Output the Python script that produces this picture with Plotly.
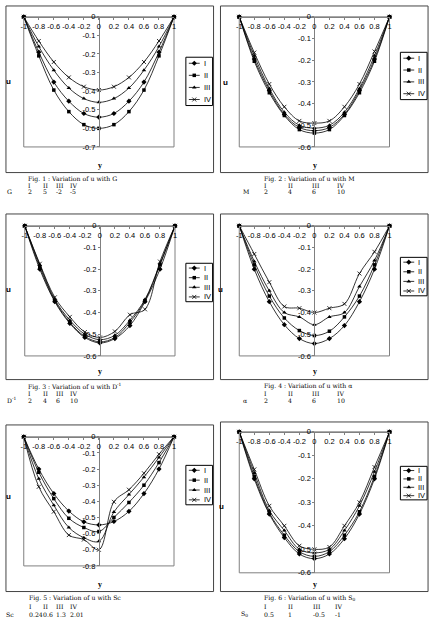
import plotly.graph_objects as go

# ---------------- data ----------------
Y_POS = [-1, -0.8, -0.6, -0.4, -0.2, 0, 0.2, 0.4, 0.6, 0.8, 1]
SERIES = ["I", "II", "III", "IV"]

# Fig. 1 : G
G_I = [0, -0.19, -0.351, -0.454, -0.52, -0.54, -0.52, -0.454, -0.351, -0.19, 0]
G_II = [0, -0.21, -0.394, -0.51, -0.58, -0.60, -0.58, -0.51, -0.394, -0.21, 0]
G_III = [0, -0.16, -0.287, -0.383, -0.44, -0.46, -0.44, -0.383, -0.287, -0.16, 0]
G_IV = [0, -0.13, -0.243, -0.326, -0.376, -0.394, -0.376, -0.326, -0.243, -0.13, 0]

# Fig. 2 : M
M_I = [0, -0.195, -0.34, -0.45, -0.51, -0.525, -0.51, -0.45, -0.34, -0.195, 0]
M_II = [0, -0.205, -0.35, -0.455, -0.52, -0.536, -0.52, -0.455, -0.35, -0.205, 0]
M_III = [0, -0.18, -0.33, -0.44, -0.50, -0.513, -0.50, -0.44, -0.33, -0.18, 0]
M_IV = [0, -0.165, -0.31, -0.415, -0.48, -0.49, -0.48, -0.415, -0.31, -0.16, 0]

# Fig. 3 : D^-1
D_I = [0, -0.2, -0.35, -0.45, -0.515, -0.54, -0.52, -0.46, -0.35, -0.2, 0]
D_II = [0, -0.19, -0.345, -0.445, -0.51, -0.535, -0.515, -0.445, -0.345, -0.18, 0]
D_III = [0, -0.18, -0.34, -0.435, -0.50, -0.525, -0.505, -0.435, -0.34, -0.175, 0]
D_IV = [0, -0.175, -0.33, -0.42, -0.49, -0.515, -0.487, -0.41, -0.385, -0.165, 0]

# Fig. 4 : alpha
A_I = [0, -0.2, -0.35, -0.456, -0.52, -0.543, -0.52, -0.46, -0.35, -0.2, 0]
A_II = [0, -0.18, -0.324, -0.425, -0.483, -0.506, -0.486, -0.42, -0.324, -0.18, 0]
A_III = [0, -0.164, -0.30, -0.40, -0.42, -0.456, -0.42, -0.40, -0.28, -0.16, 0]
A_IV = [0, -0.13, -0.26, -0.372, -0.38, -0.40, -0.38, -0.36, -0.22, -0.12, 0]

# Fig. 5 : Sc
S_I = [0, -0.2, -0.352, -0.46, -0.527, -0.546, -0.525, -0.462, -0.352, -0.2, 0]
S_II = [0, -0.22, -0.383, -0.505, -0.562, -0.587, -0.50, -0.407, -0.30, -0.16, 0]
S_III = [0, -0.26, -0.424, -0.562, -0.625, -0.648, -0.466, -0.358, -0.25, -0.128, 0]
S_IV = [0, -0.31, -0.464, -0.609, -0.637, -0.70, -0.403, -0.328, -0.226, -0.108, 0]

# Fig. 6 : S0
Z_I = [0, -0.20, -0.35, -0.45, -0.52, -0.54, -0.52, -0.455, -0.35, -0.20, 0]
Z_II = [0, -0.19, -0.345, -0.44, -0.51, -0.53, -0.51, -0.44, -0.34, -0.19, 0]
Z_III = [0, -0.175, -0.335, -0.42, -0.50, -0.515, -0.50, -0.42, -0.315, -0.17, 0]
Z_IV = [0, -0.16, -0.315, -0.40, -0.485, -0.50, -0.49, -0.40, -0.30, -0.15, 0]

X_TICKS = [-1, -0.8, -0.6, -0.4, -0.2, 0, 0.2, 0.4, 0.6, 0.8, 1]
X_TICK_TEXT = ["-1", "-0.8", "-0.6", "-0.4", "-0.2", "0", "0.2", "0.4", "0.6", "0.8", "1"]

PARAM_NAMES = ["G", "M", "D<sup>-1</sup>", "\u03b1", "Sc", "S<sub>0</sub>"]
PARAM_VALUES = [
    ["2", "5", "-2", "-5"],
    ["2", "4", "6", "10"],
    ["2", "4", "6", "10"],
    ["2", "4", "6", "10"],
    ["0.24", "0.6", "1.3", "2.01"],
    ["0.5", "1", "-0.5", "-1"],
]
CAPTIONS = [
    "Fig. 1 : Variation of u with G",
    "Fig. 2 : Variation of u with M",
    "Fig. 3 : Variation of u with D<sup>-1</sup>",
    "Fig. 4 : Variation of u with \u03b1",
    "Fig. 5 : Variation of u with Sc",
    "Fig. 6 : Variation of u with S<sub>0</sub>",
]
Y_MINS = [-0.7, -0.6, -0.6, -0.6, -0.8, -0.6]
DATA = [
    [G_I, G_II, G_III, G_IV],
    [M_I, M_II, M_III, M_IV],
    [D_I, D_II, D_III, D_IV],
    [A_I, A_II, A_III, A_IV],
    [S_I, S_II, S_III, S_IV],
    [Z_I, Z_II, Z_III, Z_IV],
]

# ---------------- layout (pixels) ----------------
W, H = 435, 634
def px(x):
    return x / W
def py(y):
    return 1 - y / H

L = [
    dict(plot=(21, 173, 13, 145), box=(3, 213, 2, 171), leg=(185, 212, 54, 103), u=(6, 79), ylab=(98, 164),
         cap=178, hdr=184, val=190, lab_x=2, cols=(23, 38, 52, 66)),
    dict(plot=(239, 391, 13, 145), box=(220, 430, 2, 171), leg=(402, 429, 49, 97), u=(225, 80), ylab=(316, 164),
         cap=178, hdr=184, val=190, lab_x=241, cols=(262, 286, 311, 336)),
    dict(plot=(22, 174, 225, 357), box=(3, 213, 213, 381), leg=(185, 212, 263, 302), u=(6, 290), ylab=(98, 373),
         cap=388, hdr=395, val=402, lab_x=2, cols=(23, 38, 52, 66)),
    dict(plot=(239, 391, 225, 357), box=(220, 430, 213, 381), leg=(402, 429, 257, 296), u=(220, 290), ylab=(316, 373),
         cap=388, hdr=395, val=402, lab_x=241, cols=(262, 286, 311, 336)),
    dict(plot=(21, 173, 439, 570), box=(3, 213, 427, 596), leg=(185, 212, 468, 508), u=(6, 500), ylab=(98, 589),
         cap=603, hdr=611, val=619, lab_x=1, cols=(24, 38, 52, 66)),
    dict(plot=(239, 391, 434, 577), box=(220, 430, 424, 596), leg=(402, 429, 469, 503), u=(221, 510), ylab=(316, 589),
         cap=603, hdr=611, val=619, lab_x=239, cols=(262, 286, 312, 334)),
]

MARKERS = [
    dict(symbol="diamond", size=4, color="black"),
    dict(symbol="square", size=3.5, color="black"),
    dict(symbol="triangle-up", size=4, color="black"),
    dict(symbol="x-thin", size=4, color="black", line=dict(width=0.8, color="black")),
]

SANS = "Liberation Sans, Arial, sans-serif"
SERIF = "DejaVu Serif, serif"

fig = go.Figure()
layout = dict(
    width=W, height=H, margin=dict(l=0, r=0, t=0, b=0),
    paper_bgcolor="white", plot_bgcolor="white", showlegend=False,
)
shapes = []
annotations = []

for k in range(6):
    lay = L[k]
    xi = k + 1
    li = k + 7
    xs = "" if xi == 1 else str(xi)
    x0, x1, y0, y1 = lay["plot"]
    ymin = Y_MINS[k]
    n = int(round(-ymin * 10))
    yt = [-i / 10 for i in range(n + 1)]
    ytt = ["0"] + ["-0.%d" % i for i in range(1, n + 1)]

    layout["xaxis" + xs] = dict(
        domain=[px(x0), px(x1)], range=[-1, 1], anchor="free", position=py(y0), side="bottom",
        showline=True, linecolor="#808080", linewidth=1, ticks="outside", ticklen=2, tickcolor="#808080",
        tickvals=X_TICKS, ticktext=X_TICK_TEXT, tickfont=dict(family=SANS, size=7.5, color="black"),
        showgrid=False, zeroline=False,
    )
    layout["yaxis" + xs] = dict(
        domain=[py(y1), py(y0)], range=[ymin, 0], anchor="free", position=px((x0 + x1) / 2), side="left",
        showline=True, linecolor="#808080", linewidth=1, ticks="outside", ticklen=2, tickcolor="#808080",
        tickvals=yt, ticktext=ytt, tickfont=dict(family=SANS, size=7.5, color="black"),
        showgrid=False, zeroline=False,
    )
    for s in range(4):
        fig.add_trace(go.Scatter(
            x=Y_POS, y=DATA[k][s], mode="lines+markers", name=SERIES[s],
            line=dict(color="black", width=0.8, shape="spline", smoothing=1),
            marker=MARKERS[s], xaxis="x" + xs, yaxis="y" + xs, cliponaxis=False,
        ))
    # plot-area border
    shapes.append(dict(type="rect", xref="x%s domain" % xs, yref="y%s domain" % xs,
                       x0=0, x1=1, y0=0, y1=1, line=dict(color="#808080", width=1), layer="below"))
    # chart box
    bx0, bx1, by0, by1 = lay["box"]
    shapes.append(dict(type="rect", xref="paper", yref="paper", x0=px(bx0), x1=px(bx1),
                       y0=py(by1), y1=py(by0), line=dict(color="#444", width=1)))

    # legend (drawn in its own small axes)
    lx0, lx1, ly0, ly1 = lay["leg"]
    lw, lh = lx1 - lx0, ly1 - ly0
    layout["xaxis%d" % li] = dict(domain=[px(lx0), px(lx1)], range=[0, lw], visible=False,
                                  anchor="y%d" % li, fixedrange=True)
    layout["yaxis%d" % li] = dict(domain=[py(ly1), py(ly0)], range=[lh, 0], visible=False,
                                  anchor="x%d" % li, fixedrange=True)
    shapes.append(dict(type="rect", xref="x%d domain" % li, yref="y%d domain" % li,
                       x0=0, x1=1, y0=0, y1=1, line=dict(color="black", width=1)))
    for s in range(4):
        yy = (s + 0.5) * lh / 4
        fig.add_trace(go.Scatter(x=[3, 14], y=[yy, yy], mode="lines",
                                 line=dict(color="black", width=0.8),
                                 xaxis="x%d" % li, yaxis="y%d" % li, hoverinfo="skip"))
        fig.add_trace(go.Scatter(x=[8.5], y=[yy], mode="markers", marker=MARKERS[s],
                                 xaxis="x%d" % li, yaxis="y%d" % li, hoverinfo="skip", cliponaxis=False))
        annotations.append(dict(x=16, y=yy, xref="x%d" % li, yref="y%d" % li, text=SERIES[s],
                                showarrow=False, xanchor="left", yanchor="middle",
                                font=dict(family=SANS, size=7.5, color="black")))

    # axis titles
    ux, uy = lay["u"]
    annotations.append(dict(x=px(ux), y=py(uy), xref="paper", yref="paper", text="<b>u</b>",
                            showarrow=False, xanchor="center", yanchor="middle",
                            font=dict(family=SANS, size=8, color="black")))
    yx, yy2 = lay["ylab"]
    annotations.append(dict(x=px(yx), y=py(yy2), xref="paper", yref="paper", text="<b>y</b>",
                            showarrow=False, xanchor="center", yanchor="middle",
                            font=dict(family="Liberation Serif, serif", size=8, color="black")))

    # caption and parameter table
    cfont = dict(family=SERIF, size=6.2, color="black")
    annotations.append(dict(x=px(lay["cols"][0]), y=py(lay["cap"]), xref="paper", yref="paper",
                            text=CAPTIONS[k], showarrow=False, xanchor="left", yanchor="middle", font=cfont))
    for s in range(4):
        annotations.append(dict(x=px(lay["cols"][s]), y=py(lay["hdr"]), xref="paper", yref="paper",
                                text=SERIES[s], showarrow=False, xanchor="left", yanchor="middle", font=cfont))
        annotations.append(dict(x=px(lay["cols"][s]), y=py(lay["val"]), xref="paper", yref="paper",
                                text=PARAM_VALUES[k][s], showarrow=False, xanchor="left", yanchor="middle",
                                font=cfont))
    annotations.append(dict(x=px(lay["lab_x"]), y=py(lay["val"]), xref="paper", yref="paper",
                            text=PARAM_NAMES[k], showarrow=False, xanchor="left", yanchor="middle", font=cfont))

layout["shapes"] = shapes
layout["annotations"] = annotations
fig.update_layout(**layout)
fig.write_html("out.html")
